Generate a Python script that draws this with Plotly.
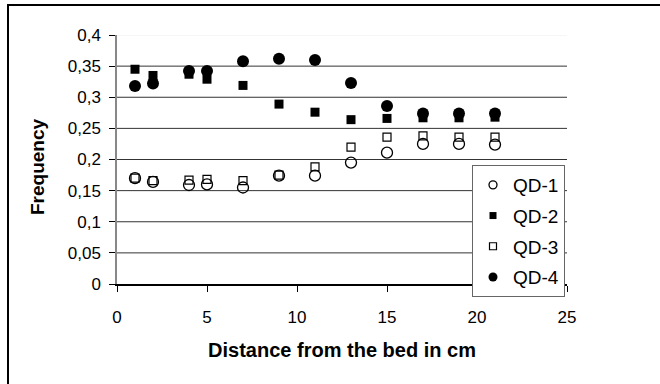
import plotly.graph_objects as go

distance = [1, 2, 4, 5, 7, 9, 11, 13, 15, 17, 19, 21]
qd1 = [0.170, 0.164, 0.159, 0.160, 0.155, 0.174, 0.174, 0.195, 0.211, 0.225, 0.225, 0.224]
qd2 = [0.345, 0.335, 0.337, 0.329, 0.319, 0.289, 0.276, 0.264, 0.266, 0.267, 0.267, 0.268]
qd3 = [0.170, 0.166, 0.167, 0.168, 0.166, 0.175, 0.188, 0.220, 0.236, 0.238, 0.236, 0.236]
qd4 = [0.318, 0.322, 0.342, 0.342, 0.358, 0.362, 0.360, 0.323, 0.286, 0.274, 0.274, 0.274]
grid_values = [0.05, 0.1, 0.15, 0.2, 0.25, 0.3, 0.35]

# name, values, symbol, plot size, legend size, outline width
series = [
    ("QD-1", qd1, "circle-open", 11, 8, 1.3),
    ("QD-2", qd2, "square", 9, 7, 0),
    ("QD-3", qd3, "square-open", 8, 7, 1.2),
    ("QD-4", qd4, "circle", 12, 9, 0),
]

fig = go.Figure()
for name, vals, sym, size, lsize, lw in series:
    fig.add_trace(go.Scatter(
        x=distance, y=vals, mode="markers", name=name, showlegend=False,
        marker=dict(symbol=sym, size=size, color="black",
                    line=dict(color="black", width=lw)),
    ))
for name, vals, sym, size, lsize, lw in series:
    fig.add_trace(go.Scatter(
        x=[None], y=[None], mode="markers", name=name, legendgroup=name,
        marker=dict(symbol=sym, size=lsize, color="black",
                    line=dict(color="black", width=lw)),
    ))

L, R, T, B = 117, 93, 35, 100
W, H = 660, 384
pw, ph = W - L - R, H - T - B

def px_x(p):
    return (p - L) / pw

def px_y(p):
    return (H - B - p) / ph

shapes = [
    dict(type="line", xref="paper", yref="y", x0=0, x1=1, y0=g, y1=g,
         line=dict(color="#333", width=1), layer="below")
    for g in grid_values
]
shapes.append(dict(type="line", xref="paper", yref="y", x0=0, x1=1,
                   y0=0.4, y1=0.4, line=dict(color="#eeeeee", width=1),
                   layer="below"))
shapes.append(dict(type="rect", xref="paper", yref="paper",
                   x0=px_x(8), x1=px_x(668), y0=px_y(392), y1=px_y(5),
                   line=dict(color="black", width=2),
                   fillcolor="rgba(0,0,0,0)", layer="above"))

font = "Liberation Sans, Arial, sans-serif"
fig.update_layout(
    width=W, height=H,
    margin=dict(l=L, r=R, t=T, b=B),
    paper_bgcolor="white", plot_bgcolor="white",
    separators=", ",
    font=dict(family=font, color="black"),
    xaxis=dict(range=[0, 25], dtick=5, ticks="outside", ticklen=6,
               tickcolor="black", showline=True, linecolor="black",
               linewidth=1.5, showgrid=False, zeroline=False,
               tickfont=dict(size=17), ticklabelstandoff=11,
               title=dict(text="<b>Distance from the bed in cm</b>",
                          font=dict(size=20), standoff=17)),
    yaxis=dict(range=[0, 0.4], dtick=0.05, ticks="outside", ticklen=6,
               tickcolor="black", showline=True, linecolor="#888",
               linewidth=1.5, showgrid=False, zeroline=False,
               tickfont=dict(size=17), ticklabelstandoff=5),
    annotations=[dict(text="<b>Frequency</b>", textangle=-90,
                      xref="paper", yref="paper", x=px_x(38), y=px_y(167),
                      xanchor="center", yanchor="middle", showarrow=False,
                      font=dict(size=19))],
    legend=dict(x=px_x(472), y=px_y(165), xanchor="left", yanchor="top",
                bordercolor="#666", borderwidth=1, bgcolor="white",
                font=dict(size=19), tracegroupgap=3, itemwidth=30),
    showlegend=True,
    shapes=shapes,
)

fig.write_html("out.html")
